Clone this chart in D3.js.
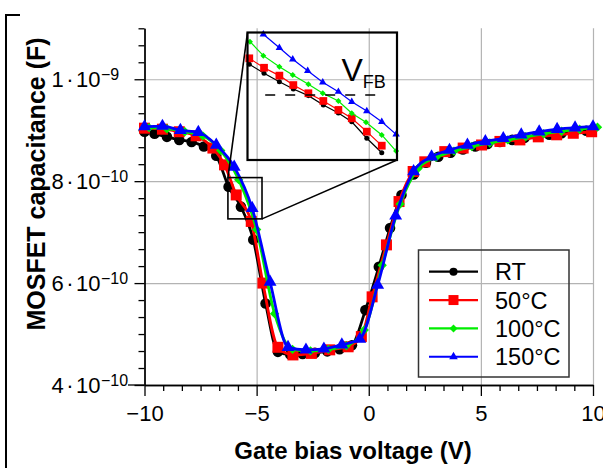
<!DOCTYPE html>
<html>
<head>
<meta charset="UTF-8">
<script src="https://d3js.org/d3.v7.min.js"></script>
<style>
  body { margin: 0; background: #fff; }
  svg text { font-family: "Liberation Sans", Arial, Helvetica, sans-serif; }
</style>
</head>
<body>
<svg width="603" height="468"></svg>
<script>
// ---- data (capacitance in F) ----
const seriesNames = ["RT", "50°C", "100°C", "150°C"];

const rtV = [-10, -9.55, -9.0, -8.45, -7.9, -7.35, -6.8, -6.25, -5.7, -5.15, -4.6, -4.05, -3.5, -2.95, -2.4, -1.85, -1.3, -0.75, -0.15, 0.45, 0.95, 1.46, 2.0, 2.55, 3.1, 3.65, 4.2, 4.75, 5.3, 5.85, 6.4, 6.95, 7.5, 8.05, 8.6, 9.15, 9.7];
const rtC = [8.97e-10, 8.93e-10, 8.87e-10, 8.81e-10, 8.77e-10, 8.68e-10, 8.50e-10, 7.89e-10, 7.50e-10, 6.85e-10, 5.60e-10, 4.65e-10, 4.60e-10, 4.61e-10, 4.63e-10, 4.66e-10, 4.70e-10, 4.78e-10, 5.47e-10, 6.32e-10, 7.08e-10, 7.73e-10, 8.13e-10, 8.36e-10, 8.48e-10, 8.56e-10, 8.62e-10, 8.68e-10, 8.73e-10, 8.77e-10, 8.81e-10, 8.85e-10, 8.88e-10, 8.91e-10, 8.94e-10, 8.97e-10, 8.99e-10];

const c50V = [-10, -9.2, -8.45, -7.7, -6.95, -6.43, -5.91, -5.24, -4.72, -4.05, -3.38, -2.56, -1.74, -0.92, -0.33, 0.15, 0.79, 1.35, 1.98, 2.5, 3.39, 4.21, 5.03, 5.85, 6.74, 7.56, 8.38, 9.12, 9.94];
const c50C = [9.04e-10, 9.02e-10, 8.97e-10, 8.89e-10, 8.65e-10, 8.32e-10, 7.73e-10, 7.21e-10, 6.00e-10, 4.74e-10, 4.59e-10, 4.62e-10, 4.69e-10, 4.75e-10, 4.95e-10, 5.73e-10, 6.75e-10, 7.60e-10, 8.19e-10, 8.38e-10, 8.58e-10, 8.65e-10, 8.71e-10, 8.78e-10, 8.81e-10, 8.87e-10, 8.91e-10, 8.94e-10, 8.97e-10];

const c100V = [-9.8, -9.0, -8.2, -7.4, -6.6, -5.8, -5.0, -4.2, -3.4, -2.6, -1.8, -1.0, -0.2, 0.6, 1.4, 2.2, 3.0, 3.8, 4.6, 5.4, 6.2, 7.0, 7.8, 8.6, 9.4, 10.2];
const c100C = [9.05e-10, 9.03e-10, 8.97e-10, 8.89e-10, 8.60e-10, 8.03e-10, 7.05e-10, 5.40e-10, 4.70e-10, 4.67e-10, 4.70e-10, 4.77e-10, 5.08e-10, 6.35e-10, 7.55e-10, 8.25e-10, 8.47e-10, 8.59e-10, 8.68e-10, 8.75e-10, 8.81e-10, 8.87e-10, 8.93e-10, 8.98e-10, 9.02e-10, 9.06e-10];

const c150V = [-10, -9.2, -8.4, -7.6, -6.8, -6.0, -5.2, -4.4, -3.6, -2.8, -2.0, -1.2, -0.4, 0.4, 1.2, 2.0, 2.8, 3.6, 4.4, 5.2, 6.0, 6.8, 7.6, 8.4, 9.2, 10.0];
const c150C = [9.07e-10, 9.08e-10, 9.00e-10, 8.96e-10, 8.71e-10, 8.28e-10, 7.47e-10, 6.02e-10, 4.74e-10, 4.69e-10, 4.71e-10, 4.79e-10, 4.90e-10, 5.96e-10, 7.32e-10, 8.19e-10, 8.48e-10, 8.61e-10, 8.71e-10, 8.78e-10, 8.84e-10, 8.91e-10, 8.97e-10, 9.02e-10, 9.05e-10, 9.07e-10];

// inset (zoom near the flat-band point)
const insetRangeV = [-6.28, -4.76];
const insetRangeC = [7.26e-10, 8.07e-10];
const insRtV = [-6.262, -6.112, -5.956, -5.814, -5.661, -5.509, -5.356, -5.220, -5.067, -4.915];
const insRtC = [7.868e-10, 7.811e-10, 7.757e-10, 7.711e-10, 7.669e-10, 7.609e-10, 7.559e-10, 7.503e-10, 7.398e-10, 7.306e-10];
const ins50V = [-6.262, -6.112, -5.956, -5.814, -5.661, -5.509, -5.356, -5.220, -5.067, -4.915];
const ins50C = [7.906e-10, 7.846e-10, 7.796e-10, 7.736e-10, 7.684e-10, 7.635e-10, 7.578e-10, 7.525e-10, 7.440e-10, 7.351e-10];
const ins100V = [-6.255, -6.119, -5.956, -5.820, -5.661, -5.515, -5.356, -5.220, -5.075, -4.915, -4.769];
const ins100C = [8.012e-10, 7.923e-10, 7.853e-10, 7.800e-10, 7.741e-10, 7.684e-10, 7.635e-10, 7.557e-10, 7.500e-10, 7.419e-10, 7.317e-10];
const ins150V = [-6.119, -5.956, -5.820, -5.668, -5.515, -5.356, -5.220, -5.067, -4.915, -4.769];
const ins150C = [8.059e-10, 7.973e-10, 7.900e-10, 7.827e-10, 7.754e-10, 7.694e-10, 7.630e-10, 7.571e-10, 7.503e-10, 7.423e-10];
const vfbC = 7.673e-10;
const vfbV = [-6.10, -4.96];

// ticks
const xMajor = [-10, -5, 0, 5, 10];
const yMajor = [4e-10, 6e-10, 8e-10, 1e-9];
const yMantissa = ["4", "6", "8", "1"];
const yExponent = ["\u221210", "\u221210", "\u221210", "\u22129"];
const xGrid = [-5, 0, 5, 10];
const yGrid = [6e-10, 8e-10, 1e-9];

// ---- layout ----
const svg = d3.select("svg");
const plot = {left: 144.5, right: 593, top: 28.3, bottom: 385};
const inset = {left: 247.5, right: 397, top: 32.5, bottom: 160};

const x = d3.scaleLinear().domain([-10, 10]).range([plot.left, plot.right]);
const y = d3.scaleLinear().domain([4e-10, 1.1e-9]).range([plot.bottom, plot.top]);

const styles = [
  {color: "#000000", sym: d3.symbolCircle, size: 88, insSize: 20, legSize: 52, rot: 0},
  {color: "#ff0000", sym: d3.symbolSquare, size: 121, insSize: 60, legSize: 100, rot: 0},
  {color: "#00ee00", sym: d3.symbolSquare, size: 44, insSize: 18, legSize: 32, rot: 45},
  {color: "#0000ff", sym: d3.symbolTriangle, size: 72, insSize: 24, legSize: 32, rot: 0}
];

// left frame remnant
svg.append("path").attr("d", "M20,15H6V468").attr("fill", "none").attr("stroke", "#000").attr("stroke-width", 2);

// grid
svg.append("g").attr("class", "grid")
  .attr("transform", `translate(0,${plot.bottom})`)
  .call(d3.axisBottom(x).tickValues(xGrid).tickSize(-(plot.bottom - plot.top)).tickFormat(""));
svg.append("g").attr("class", "grid")
  .attr("transform", `translate(${plot.left},0)`)
  .call(d3.axisLeft(y).tickValues(yGrid).tickSize(-(plot.right - plot.left)).tickFormat(""));
svg.selectAll(".grid .domain").remove();
svg.selectAll(".grid line").attr("stroke", "#b3b3b3").attr("stroke-width", 1.2);

// axes
const xMinor = d3.range(0, 25).map(k => -10 + k * 5 / 6).filter((v, k) => k % 6 !== 0);
const yMinor = d3.range(0, 22).map(k => 4e-10 + k * 2e-10 / 6).filter((v, k) => k % 6 !== 0);

const gx = svg.append("g").attr("transform", `translate(0,${plot.bottom})`);
gx.call(d3.axisBottom(x).tickValues(xMinor).tickSize(6).tickSizeOuter(0).tickFormat(""));
gx.append("g").call(d3.axisBottom(x).tickValues(xMajor).tickSize(11).tickSizeOuter(0).tickPadding(9));
gx.append("line").attr("x1", 128).attr("x2", plot.left).attr("stroke", "#000").attr("stroke-width", 1.3);

const gy = svg.append("g").attr("transform", `translate(${plot.left},0)`);
gy.call(d3.axisLeft(y).tickValues(yMinor).tickSize(6).tickSizeOuter(0).tickFormat(""));
const gyMaj = gy.append("g").call(d3.axisLeft(y).tickValues(yMajor).tickSize(10).tickSizeOuter(0).tickFormat(""));
gyMaj.selectAll(".tick").each(function(d, i) {
  const t = d3.select(this);
  const m = t.append("text").attr("x", -44).attr("y", 7.5).attr("text-anchor", "end").attr("font-size", 22);
  m.append("tspan").text(yMantissa[i]);
  m.append("tspan").attr("dx", 2.5).text("\u00b7");
  m.append("tspan").attr("dx", 2.5).text("10");
  t.append("text").attr("x", -43.5).attr("y", 0.5).attr("text-anchor", "start")
    .attr("font-size", 16).text(yExponent[i]);
});

svg.selectAll(".domain, .tick line").filter(function() { return !this.closest(".grid"); })
  .attr("stroke", "#000").attr("stroke-width", 1.3);
gx.selectAll(".tick text").attr("font-size", 22).attr("fill", "#000");
gy.selectAll("text").attr("fill", "#000");

// axis titles
svg.append("text").attr("x", 353).attr("y", 459)
  .attr("text-anchor", "middle").attr("font-size", 24).attr("font-weight", "bold")
  .text("Gate bias voltage (V)");
svg.append("text").attr("transform", `translate(45,184) rotate(-90)`)
  .attr("text-anchor", "middle").attr("font-size", 25).attr("font-weight", "bold")
  .text("MOSFET capacitance (F)");

// ---- series ----
const mainSets = [[rtV, rtC], [c50V, c50C], [c100V, c100C], [c150V, c150C]];
const insetSets = [[insRtV, insRtC], [ins50V, ins50C], [ins100V, ins100C], [ins150V, ins150C]];

function drawSeries(g, xs, ys, vs, cs, st, size, lw, curve) {
  const pts = vs.map((v, i) => [v, cs[i]]);
  g.append("path").datum(pts)
    .attr("fill", "none").attr("stroke", st.color).attr("stroke-width", lw)
    .attr("d", d3.line().x(d => xs(d[0])).y(d => ys(d[1])).curve(curve));
  g.selectAll(null).data(pts).enter().append("path")
    .attr("d", d3.symbol().type(st.sym).size(size))
    .attr("transform", d => `translate(${xs(d[0])},${ys(d[1])}) rotate(${st.rot})`)
    .attr("fill", st.color);
}

const gMain = svg.append("g");
mainSets.forEach((s, i) => drawSeries(gMain, x, y, s[0], s[1], styles[i], styles[i].size, 2.8, d3.curveMonotoneX));

// ---- zoom box + inset ----
const bx0 = x(insetRangeV[0]), bx1 = x(insetRangeV[1]);
const by0 = y(insetRangeC[1]), by1 = y(insetRangeC[0]);
svg.append("rect").attr("x", bx0).attr("y", by0).attr("width", bx1 - bx0).attr("height", by1 - by0)
  .attr("fill", "none").attr("stroke", "#000").attr("stroke-width", 1.6);
svg.append("line").attr("x1", bx0).attr("y1", by0).attr("x2", inset.left).attr("y2", inset.top)
  .attr("stroke", "#000").attr("stroke-width", 1.6);
svg.append("line").attr("x1", bx1).attr("y1", by1).attr("x2", inset.right).attr("y2", inset.bottom)
  .attr("stroke", "#000").attr("stroke-width", 1.6);

const xi = d3.scaleLinear().domain(insetRangeV).range([inset.left, inset.right]);
const yi = d3.scaleLinear().domain(insetRangeC).range([inset.bottom, inset.top]);
const gIns = svg.append("g");
insetSets.forEach((s, i) => drawSeries(gIns, xi, yi, s[0], s[1], styles[i], styles[i].insSize, 1.2, d3.curveLinear));

gIns.append("line").attr("x1", xi(vfbV[0])).attr("x2", xi(vfbV[1]))
  .attr("y1", yi(vfbC)).attr("y2", yi(vfbC))
  .attr("stroke", "#000").attr("stroke-width", 1.6).attr("stroke-dasharray", "10,10");
const vfb = gIns.append("text").attr("x", inset.left + 94).attr("y", inset.top + 48).attr("font-size", 32);
vfb.append("tspan").text("V");
vfb.append("tspan").attr("dy", 7.5).attr("font-size", 18).text("FB");

svg.append("rect").attr("x", inset.left).attr("y", inset.top)
  .attr("width", inset.right - inset.left).attr("height", inset.bottom - inset.top)
  .attr("fill", "none").attr("stroke", "#000").attr("stroke-width", 2.2);

// ---- legend ----
const leg = svg.append("g");
leg.append("rect").attr("x", 418.5).attr("y", 250).attr("width", 150.5).attr("height", 127)
  .attr("fill", "none").attr("stroke", "#333").attr("stroke-width", 1.5);
seriesNames.forEach((name, i) => {
  const ry = 271.7 + i * 28.35;
  const st = styles[i];
  leg.append("line").attr("x1", 429).attr("x2", 478).attr("y1", ry).attr("y2", ry)
    .attr("stroke", st.color).attr("stroke-width", 2.2);
  leg.append("path").attr("d", d3.symbol().type(st.sym).size(st.legSize))
    .attr("transform", `translate(453.5,${ry}) rotate(${st.rot})`).attr("fill", st.color);
  leg.append("text").attr("x", 495).attr("y", ry + 8.5).attr("font-size", 23.5).text(name);
});
</script>
</body>
</html>
